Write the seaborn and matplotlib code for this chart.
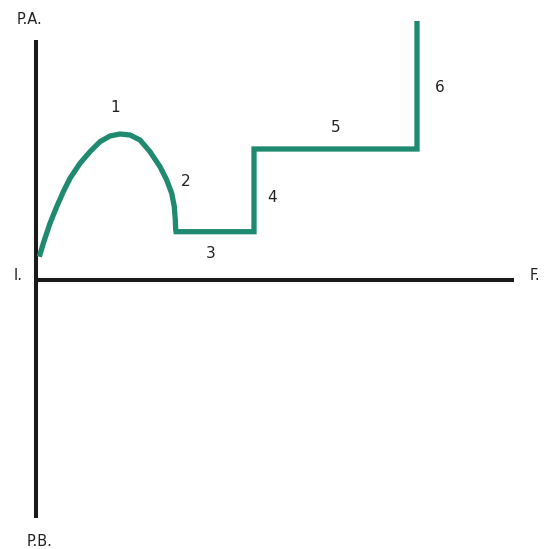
import matplotlib
matplotlib.use("Agg")
import matplotlib.pyplot as plt
import seaborn as sns
import pandas as pd

sns.set_theme(style="white")
plt.rcParams['font.family'] = ['DejaVu Sans']

# Path of the curve (arbitrary units, origin at the axes crossing)
curve_x = [3.3, 7.3, 14, 20.7, 27.3, 34, 44, 54, 64, 74, 84, 94, 104, 114, 124,
           130.7, 135.7, 138.3, 139.3, 139.7, 140, 218, 218, 381, 381]
curve_y = [23.3, 36.7, 56.7, 73.3, 88.3, 101.7, 116.7, 128.3, 138.3, 144, 146, 145,
           140, 128.3, 113.3, 100, 86.7, 73.3, 60, 50, 48.3, 48.3, 131, 131, 259]

# Segment labels
seg_labels = ["1", "2", "3", "4", "5", "6"]
seg_x = [79, 150, 175, 236, 300, 404]
seg_y = [173, 99, 27, 82, 152, 192]

# Axis extents and labels
x_axis = [0, 478]
y_axis = [-238, 240]
axis_labels = ["P.A.", "P.B.", "I.", "F."]
axis_lab_x = [-6, 4, -18, 499]
axis_lab_y = [260, -261, 5, 4]

df = pd.DataFrame({"x": curve_x, "y": curve_y})

fig = plt.figure(figsize=(5.47, 5.49), dpi=100)
ax = fig.add_axes([0, 0, 1, 1])

ax.plot(x_axis, [0, 0], color="#1a1a1a", lw=2.9, solid_capstyle="butt", zorder=1)
ax.plot([0, 0], y_axis, color="#1a1a1a", lw=2.9, solid_capstyle="butt", zorder=1)

sns.lineplot(data=df, x="x", y="y", sort=False, estimator=None, ax=ax,
             color="#1f8a6f", lw=3.8, zorder=2)
ax.lines[-1].set_solid_joinstyle("miter")
ax.lines[-1].set_solid_capstyle("butt")

for t, x, y in zip(seg_labels, seg_x, seg_y):
    ax.text(x, y, t, ha="center", va="center", fontsize=11, color="#222222")
for t, x, y in zip(axis_labels, axis_lab_x, axis_lab_y):
    ax.text(x, y, t, ha="center", va="center", fontsize=10.5, color="#222222")

ax.set_xlim(-36, 511)
ax.set_ylim(-269, 280)
ax.set_axis_off()
fig.savefig("out.png", dpi=100)
